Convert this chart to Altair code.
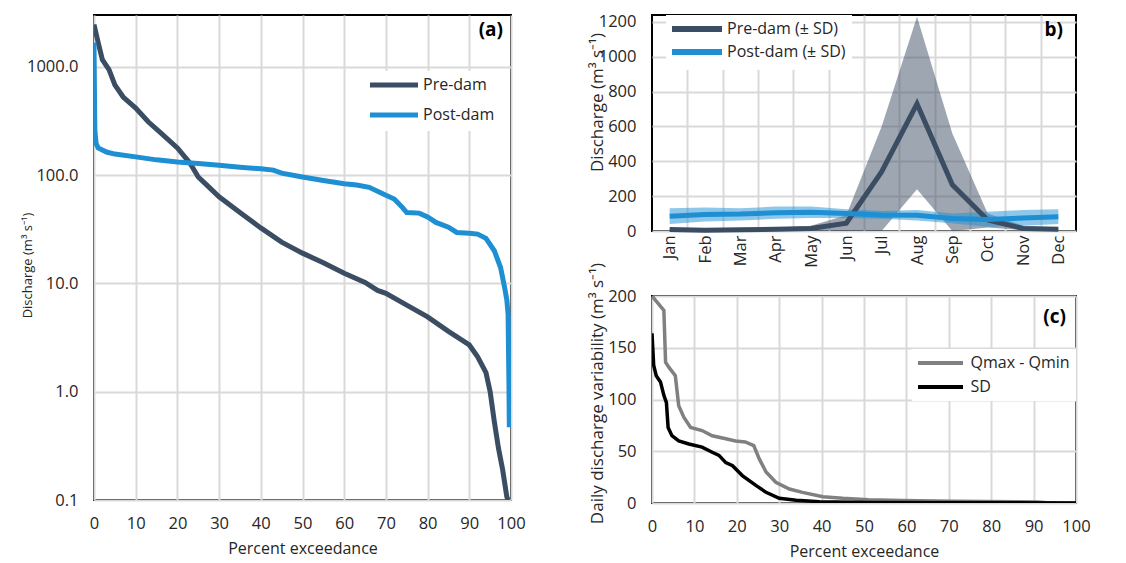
import altair as alt
import pandas as pd

PRE = "#3b4d63"
POST = "#1e8fd3"
GRID = "#d9d9d9"
TXT = "#262626"
FONT = "Open Sans"
LAB = 16.5

# ---------- panel (a): flow duration curves ----------
pre_pct = [0, 1, 2, 3.6, 5, 7, 10, 13, 16, 20, 23, 25, 27, 30, 35, 40, 45, 50, 55, 60,
           65, 68, 70, 75, 80, 85, 90, 92, 94, 95, 96, 97, 98, 99, 99.3]
pre_q = [2450, 1670, 1160, 940, 680, 525, 415, 310, 245, 178, 129, 96, 81, 63, 45, 32.5, 24, 19, 15.5, 12.4,
         10.2, 8.6, 8.1, 6.3, 4.9, 3.6, 2.7, 2.1, 1.5, 1.0, 0.53, 0.30, 0.19, 0.107, 0.1]
post_pct = [0, 0.2, 0.5, 1, 3, 5, 10, 15, 20, 25, 30, 35, 40, 43, 45, 50, 55, 60, 63, 66, 70, 72, 74, 75,
            78, 80, 82, 85, 87, 90, 92, 94, 96, 97.5, 98.5, 99, 99.3, 99.5, 99.6]
post_q = [1670, 260, 195, 178, 163, 156, 147, 138, 132, 128, 123, 118, 114, 111, 104, 96, 89, 83, 81, 77,
          65, 60, 50, 45, 44.5, 41, 36.5, 33, 29.5, 29, 28.5, 26, 20, 14, 9, 7, 5.2, 1.25, 0.47]
a_series = ["Pre-dam", "Post-dam"]

# ---------- panel (b): monthly means ± SD ----------
months = ["Jan", "Feb", "Mar", "Apr", "May", "Jun", "Jul", "Aug", "Sep", "Oct", "Nov", "Dec"]
pre_mean = [8, 5, 7, 10, 15, 45, 340, 730, 265, 63, 15, 10]
pre_hi = [14, 10, 12, 18, 30, 90, 600, 1230, 560, 100, 30, 18]
pre_lo = [2, 1, 2, 3, 3, 0, 0, 240, 0, 20, 5, 3]
post_mean = [85, 95, 97, 105, 108, 100, 92, 90, 72, 66, 75, 82]
post_hi = [130, 135, 130, 140, 140, 125, 115, 120, 100, 110, 120, 125]
post_lo = [40, 55, 60, 70, 75, 75, 70, 60, 45, 25, 30, 40]
b_series = ["Pre-dam (± SD)", "Post-dam (± SD)"]

# ---------- panel (c): daily variability duration curves ----------
rng_pct = [0, 2.8, 3.2, 4, 5.5, 6.3, 7.5, 9.1, 11.8, 14.2, 17.4, 19.7, 22, 24, 25.3, 26.9, 29.2, 32.4,
           35.5, 40.3, 45, 51, 59, 71, 91, 94, 100]
rng_val = [200, 186, 136, 131, 123, 94, 83, 73, 70, 65, 62, 60, 59, 55.5, 42.6, 30, 20, 13.5,
           10.3, 6, 4.5, 3.2, 2.3, 1.6, 1, 0, 0]
sd_pct = [0, 0.4, 1, 2, 2.8, 3.4, 3.8, 4.7, 6.3, 8.7, 11.8, 14.2, 15.8, 17.4, 19, 21.3, 24.5, 26.9,
          30, 34, 39.5, 51, 100]
sd_val = [164, 133, 123, 117, 104, 97, 73, 65, 60, 57, 54, 49, 46, 39, 36, 26.5, 17, 10.3,
          4.5, 2.6, 1.3, 0.6, 0]
c_series = ["Qmax - Qmin", "SD"]

pct_ticks = list(range(0, 101, 10))


def leg(x, y, stroke_w, path, sym_off, lab_off, row_pad):
    return alt.Legend(title=None, orient="none", legendX=x, legendY=y,
                      symbolType=path, symbolSize=100, symbolStrokeWidth=stroke_w,
                      symbolFillColor="transparent", symbolOffset=sym_off, labelOffset=lab_off,
                      rowPadding=row_pad, fillColor="white", padding=6,
                      labelFontSize=16, labelFont=FONT, labelColor=TXT)


def tag(text, px, py):
    return alt.Chart(pd.DataFrame({"t": [text]})).mark_text(
        align="right", baseline="top", fontSize=19, fontWeight="bold", font=FONT, color="#000"
    ).encode(text="t:N", x=alt.value(px), y=alt.value(py))


def xaxis_pct():
    return alt.Axis(values=pct_ticks, title="Percent exceedance", labelFlush=False,
                    labelOverlap=False, labelPadding=15, titlePadding=9,
                    labelFontSize=LAB, titleFontSize=16)


# ---- (a)
W_A, H_A = 417, 485
df_a = pd.DataFrame({
    "pct": pre_pct + post_pct,
    "q": pre_q + post_q,
    "series": [a_series[0]] * len(pre_pct) + [a_series[1]] * len(post_pct),
})
lines_a = alt.Chart(df_a).mark_line(strokeWidth=5, clip=True).encode(
    x=alt.X("pct:Q", scale=alt.Scale(domain=[0, 100], nice=False, zero=False), axis=xaxis_pct()),
    y=alt.Y("q:Q", scale=alt.Scale(type="log", domain=[0.1, 3000], nice=False),
            axis=alt.Axis(values=[0.1, 1, 10, 100, 1000], format=".1f", title="Discharge (m³ s⁻¹)",
                          titleX=-60, titleY=250, labelPadding=16, labelOverlap=False,
                          labelFontSize=LAB, titleFontSize=13)),
    color=alt.Color("series:N", scale=alt.Scale(domain=a_series, range=[PRE, POST]),
                    legend=leg(270, 56, 5, "M-4.8,0H4.8", 16, 21, 10)),
)
panel_a = alt.layer(lines_a, tag("(a)", W_A - 8, 6)).properties(width=W_A, height=H_A)

# ---- (b)
W_B, H_B = 424, 216
df_b = pd.DataFrame({
    "m": list(range(1, 13)) * 2,
    "mean": pre_mean + post_mean,
    "lo": pre_lo + post_lo,
    "hi": pre_hi + post_hi,
    "series": [b_series[0]] * 12 + [b_series[1]] * 12,
    "band": ["pre band"] * 12 + ["post band"] * 12,
})
month_expr = "[" + ",".join("'%s'" % m for m in months) + "][datum.value - 1]"
b_xscale = alt.Scale(domain=[0.5, 12.5], nice=False, zero=False)
b_yscale = alt.Scale(domain=[0, 1240], nice=False)
b_yaxis = alt.Axis(values=list(range(0, 1201, 200)), format="d", title="Discharge (m³ s⁻¹)",
                   titleX=-46, titleY=87, labelPadding=16, labelOverlap=False,
                   labelFontSize=LAB, titleFontSize=17)
band_b = alt.Chart(df_b).mark_area(opacity=0.5).encode(
    x=alt.X("m:Q", scale=b_xscale,
            axis=alt.Axis(values=list(range(1, 13)), labelExpr=month_expr, labelAngle=-90,
                          grid=False, title=None, labelPadding=4, labelOverlap=False,
                          labelFontSize=LAB)),
    y=alt.Y("lo:Q", scale=b_yscale, axis=b_yaxis),
    y2="hi:Q",
    fill=alt.Fill("band:N", scale=alt.Scale(domain=["pre band", "post band"], range=[PRE, POST]),
                  legend=None),
)
lines_b = alt.Chart(df_b).mark_line(strokeWidth=5).encode(
    x=alt.X("m:Q", scale=b_xscale,
            axis=alt.Axis(orient="top", values=[i + 0.5 for i in range(1, 12)], grid=True,
                          labels=False, ticks=False, domain=False, title=None)),
    y=alt.Y("mean:Q", scale=b_yscale, axis=b_yaxis),
    color=alt.Color("series:N", scale=alt.Scale(domain=b_series, range=[PRE, POST]),
                    legend=leg(14, 0, 6, "M-5,0H5", 17, 22, -1)),
)
panel_b = alt.layer(band_b, lines_b, tag("b)", W_B - 13, 6)).resolve_axis(
    x="independent").properties(width=W_B, height=H_B)

# ---- (c)
W_C, H_C = 424, 207
df_c = pd.DataFrame({
    "pct": rng_pct + sd_pct,
    "v": rng_val + sd_val,
    "series": [c_series[0]] * len(rng_pct) + [c_series[1]] * len(sd_pct),
})
lines_c = alt.Chart(df_c).mark_line(strokeWidth=3.5, clip=True).encode(
    x=alt.X("pct:Q", scale=alt.Scale(domain=[0, 100], nice=False, zero=False), axis=xaxis_pct()),
    y=alt.Y("v:Q", scale=alt.Scale(domain=[0, 200], nice=False),
            axis=alt.Axis(values=list(range(0, 201, 50)), title="Daily discharge variability (m³ s⁻¹)",
                          titleX=-46, titleY=97, labelPadding=16, labelOverlap=False,
                          labelFontSize=LAB, titleFontSize=17)),
    color=alt.Color("series:N", scale=alt.Scale(domain=c_series, range=["#808080", "#000000"]),
                    legend=leg(260, 53, 4, "M-4.5,0H4.5", 14.5, 22, 8)),
)
panel_c = alt.layer(lines_c, tag("(c)", W_C - 10, 12)).properties(width=W_C, height=H_C)

right = alt.vconcat(panel_b, panel_c, spacing=65, bounds="flush").resolve_scale(
    color="independent", fill="independent")
chart = alt.hconcat(panel_a, right, spacing=141, bounds="flush").resolve_scale(
    color="independent").resolve_legend(color="independent").properties(
    padding={"left": 12, "top": 4, "right": 0, "bottom": 0})

chart = chart.configure(font=FONT).configure_view(stroke="black", strokeWidth=2).configure_axis(
    gridColor=GRID, gridWidth=2, domain=False, ticks=False,
    labelFont=FONT, labelFontSize=LAB, labelColor=TXT,
    titleFont=FONT, titleFontSize=16, titleFontWeight="normal", titleColor=TXT,
).configure_legend(labelFont=FONT, labelFontSize=16, labelColor=TXT)

chart.save("out.html", embed_options={"renderer": "svg", "actions": False})
